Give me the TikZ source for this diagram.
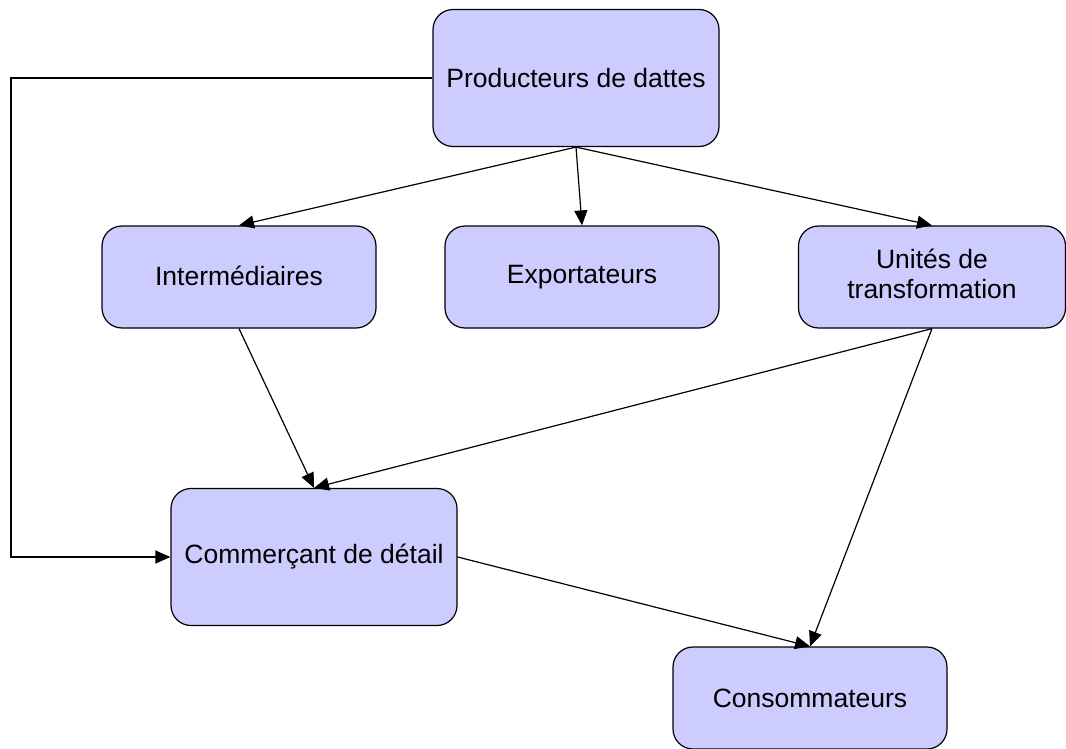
\documentclass[tikz,border=0pt]{standalone}
\usepackage{fontspec}
\setmainfont{Liberation Sans}
\usetikzlibrary{arrows.meta}
\begin{document}
\begin{tikzpicture}[x=1pt,y=-1pt,
  box/.style={draw=black, line width=1.2pt, fill=boxfill, rounded corners=20pt,
    inner sep=0pt, align=center,
    font=\fontsize{26.5}{30}\selectfont},
  tall/.style={box, minimum width=286pt, minimum height=137pt},
  short/.style={box, minimum width=274pt, minimum height=102pt},
  link/.style={line width=1.2pt, -{Triangle[length=15pt,width=13pt]}}]
\definecolor{boxfill}{HTML}{CCCCFF}
\useasboundingbox (0,0) rectangle (1066,749);

\node[tall]  (prod) at (576,78)  {Producteurs de dattes};
\node[short] (inter) at (239,277) {\raisebox{3pt}{Intermédiaires}};
\node[short] (export) at (582,277) {\raisebox{3pt}{Exportateurs}};
\node[short, minimum width=267pt] (unites) at (932,277)
  {\raisebox{5pt}{\begin{tabular}{@{}c@{}}Unités de\\transformation\end{tabular}}};
\node[tall]  (comm) at (314,557) {Commerçant de détail};
\node[short] (cons) at (810,698) {Consommateurs};

\coordinate (bend) at (11,78);

\draw[link] (prod.south) -- (inter.north);
\draw[link] (prod.south) -- (export.north);
\draw[link] (prod.south) -- (unites.north);
\draw[link] (inter.south) -- (comm.north);
\draw[link] (unites.south) -- (comm.north);
\draw[link] (unites.south) -- (cons.north);
\draw[link] (comm.east) -- (cons.north);
\draw[link] (prod.west) -- (bend) |- (comm.west);
\end{tikzpicture}
\end{document}
